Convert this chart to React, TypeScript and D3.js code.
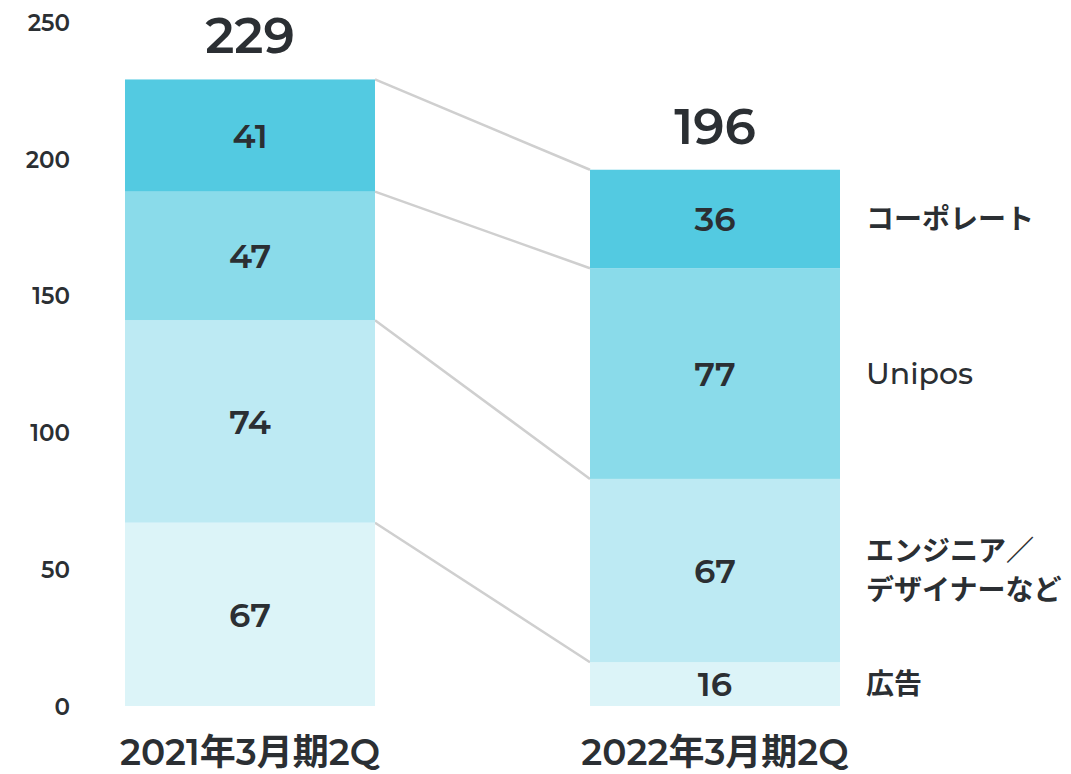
import React, { useEffect, useRef } from "react";
import * as d3 from "d3";

const categories = ["2021年3月期2Q", "2022年3月期2Q"];
const seriesNames = ["広告", "エンジニア／デザイナーなど", "Unipos", "コーポレート"];
const legendLines = [["広告"], ["エンジニア／", "デザイナーなど"], ["Unipos"], ["コーポレート"]];
const adValues = [67, 16];
const engineerValues = [74, 67];
const uniposValues = [47, 77];
const corporateValues = [41, 36];
const totals = [229, 196];
const yTicks = [0, 50, 100, 150, 200, 250];
const colors = ["#dcf4f8", "#bdeaf3", "#8adbea", "#53cae1"];

const W = 1071;
const H = 774;
const BAR_W = 250;
const FONT = "Montserrat, 'Noto Sans', 'Noto Sans CJK JP', sans-serif";
const TEXT = "#2b2f33";

const App = () => {
  const svgRef = useRef<SVGSVGElement>(null);

  useEffect(() => {
    const svg = d3.select(svgRef.current);
    svg.selectAll("*").remove();

    const rows = categories.map((c, i) => ({
      cat: c,
      s0: adValues[i],
      s1: engineerValues[i],
      s2: uniposValues[i],
      s3: corporateValues[i],
    }));
    const keys = ["s0", "s1", "s2", "s3"];
    const stacked = d3.stack<any>().keys(keys)(rows);

    const y = d3.scaleLinear().domain([0, 250]).range([706, 22]);
    const x = d3.scalePoint<string>().domain(categories).range([250, 715]);

    // y axis
    const axis = svg
      .append("g")
      .attr("transform", "translate(70,0)")
      .call(d3.axisLeft(y).tickValues(yTicks).tickSize(0).tickPadding(0));
    axis.select(".domain").remove();
    axis
      .selectAll("text")
      .attr("font-family", FONT)
      .attr("font-size", 23)
      .attr("font-weight", 600)
      .attr("fill", TEXT)
      .attr("dy", "0.36em");

    // connectors between the bars
    const boundaries = stacked.map((s) => s.map((d) => d[1]));
    svg
      .append("g")
      .selectAll("line")
      .data(boundaries)
      .join("line")
      .attr("x1", x(categories[0])! + BAR_W / 2)
      .attr("x2", x(categories[1])! - BAR_W / 2)
      .attr("y1", (d) => y(d[0]))
      .attr("y2", (d) => y(d[1]))
      .attr("stroke", "#cfcfcf")
      .attr("stroke-width", 2.5);

    // bars
    const layers = svg
      .append("g")
      .selectAll("g")
      .data(stacked)
      .join("g")
      .attr("fill", (_, i) => colors[i]);
    layers
      .selectAll("rect")
      .data((d) => d.map((v) => ({ v, cat: v.data.cat })))
      .join("rect")
      .attr("x", (d) => x(d.cat)! - BAR_W / 2)
      .attr("width", BAR_W)
      .attr("y", (d) => y(d.v[1]))
      .attr("height", (d) => y(d.v[0]) - y(d.v[1]));

    layers
      .selectAll("text")
      .data((d) => d.map((v) => ({ v, cat: v.data.cat })))
      .join("text")
      .attr("x", (d) => x(d.cat)!)
      .attr("y", (d) => (y(d.v[0]) + y(d.v[1])) / 2)
      .attr("dy", "0.36em")
      .attr("text-anchor", "middle")
      .attr("font-family", FONT)
      .attr("font-size", 34)
      .attr("font-weight", 600)
      .attr("fill", TEXT)
      .text((d) => d.v[1] - d.v[0]);

    // totals
    svg
      .append("g")
      .selectAll("text")
      .data(totals)
      .join("text")
      .attr("x", (_, i) => x(categories[i])!)
      .attr("y", (d) => y(d) - 26)
      .attr("text-anchor", "middle")
      .attr("font-family", FONT)
      .attr("font-size", 50)
      .attr("font-weight", 600)
      .attr("fill", TEXT)
      .text((d) => d);

    // category labels
    svg
      .append("g")
      .selectAll("text")
      .data(categories)
      .join("text")
      .attr("x", (d) => x(d)!)
      .attr("y", 765)
      .attr("text-anchor", "middle")
      .attr("font-family", FONT)
      .attr("font-size", 36)
      .attr("font-weight", 600)
      .attr("fill", TEXT)
      .text((d) => d);

    // legend on the right of the second bar
    const last = stacked.map((s) => s[1]);
    const legend = svg
      .append("g")
      .selectAll("text")
      .data(seriesNames)
      .join("text")
      .attr("font-family", FONT)
      .attr("font-size", (d) => (d === "Unipos" ? 30 : 28))
      .attr("font-weight", (d) => (d === "Unipos" ? 500 : 700))
      .attr("fill", TEXT)
      .attr("x", 866)
      .attr("y", (_, i) => (y(last[i][0]) + y(last[i][1])) / 2);
    legend
      .selectAll("tspan")
      .data((_, i) => legendLines[i].map((t, j, arr) => ({ t, j, n: arr.length })))
      .join("tspan")
      .attr("x", 866)
      .attr("dy", (d) => (d.j === 0 ? `${0.36 - (d.n - 1) * 0.7}em` : "1.4em"))
      .text((d) => d.t);
  }, []);

  return (
    <svg
      ref={svgRef}
      width={W}
      height={H}
      style={{ position: "absolute", left: 0, top: 0, background: "#fff" }}
    />
  );
};

export default App;
